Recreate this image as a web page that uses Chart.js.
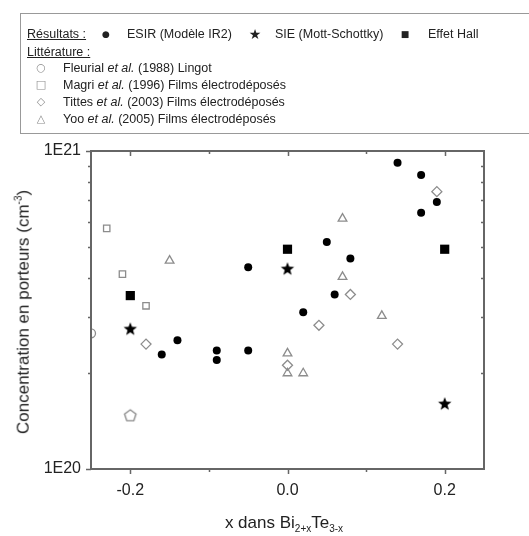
<!DOCTYPE html>
<html>
<head>
<meta charset="utf-8">
<script src="https://cdn.jsdelivr.net/npm/chart.js@4.4.1/dist/chart.umd.min.js"></script>
<style>
  html, body { margin: 0; padding: 0; background: #fff; }
  #wrap { position: relative; width: 529px; height: 536px; overflow: hidden; font-family: "Liberation Sans", Arial, sans-serif; color: #222; }
  #chart { position: absolute; left: 0; top: 0; }
  #legend { position: absolute; left: 20px; top: 13px; width: 530px; height: 121px; border: 1.5px solid #999; box-sizing: border-box; }
  .lg { position: absolute; font-size: 12.5px; line-height: 14px; white-space: nowrap; }
  .head { text-decoration: underline; }
  .sym { position: absolute; line-height: 14px; text-align: center; width: 16px; font-family: "DejaVu Sans", sans-serif; }
  #ytitle { position: absolute; left: 23px; top: 312px; font-size: 17px; white-space: nowrap; transform: translate(-50%, -50%) rotate(-90deg); }
  #xtitle { position: absolute; left: 284px; top: 513px; font-size: 17px; white-space: nowrap; transform: translateX(-50%); }
  sup, sub { font-size: 10px; }
</style>
</head>
<body>
<div id="wrap">
  <canvas id="chart" width="529" height="536"></canvas>
  <div id="legend"></div>
  <div id="ytitle">Concentration en porteurs (cm<sup>-3</sup>)</div>
  <div id="xtitle">x dans Bi<sub>2+x</sub>Te<sub>3-x</sub></div>
</div>
<script>
// valeurs
const xEsir = [-0.16, -0.14, -0.09, -0.09, -0.05, -0.05, 0.02, 0.05, 0.06, 0.08, 0.14, 0.17, 0.17, 0.19];
const yEsir = [2.29e20, 2.54e20, 2.36e20, 2.2e20, 2.36e20, 4.31e20, 3.11e20, 5.17e20, 3.54e20, 4.59e20, 9.19e20, 8.4e20, 6.4e20, 6.91e20];

const xSie = [-0.2, 0, 0.2];
const ySie = [2.75e20, 4.25e20, 1.6e20];

const xHall = [-0.2, 0, 0.2];
const yHall = [3.51e20, 4.91e20, 4.91e20];

const xFleurial = [-0.25, -0.2];
const yFleurial = [2.67e20, 1.47e20];

const xMagri = [-0.23, -0.21, -0.18];
const yMagri = [5.71e20, 4.1e20, 3.26e20];

const xTittes = [-0.18, 0, 0.04, 0.08, 0.14, 0.19];
const yTittes = [2.47e20, 2.12e20, 2.83e20, 3.54e20, 2.47e20, 7.45e20];

const xYoo = [-0.15, 0, 0, 0.02, 0.07, 0.07, 0.12];
const yYoo = [4.52e20, 2.31e20, 2.0e20, 2.0e20, 6.13e20, 4.02e20, 3.03e20];

const xTicks = [-0.2, -0.1, 0, 0.1, 0.2];
const xTickLabels = ['-0.2', '', '0.0', '', '0.2'];
const yTicks = [1e20, 1e21];
const yTickLabels = ['1E20', '1E21'];
const yMinorTicks = [2e20, 3e20, 4e20, 5e20, 6e20, 7e20, 8e20, 9e20];

const resultLabels = ['ESIR (Modèle IR2)', 'SIE (Mott-Schottky)', 'Effet Hall'];
const litAuthors = ['Fleurial', 'Magri', 'Tittes', 'Yoo'];
const litLabels = ['(1988) Lingot', '(1996) Films électrodéposés', '(2003) Films électrodéposés', '(2005) Films électrodéposés'];

const GRAY = '#8c8c8c';

const toPoints = (xs, ys) => xs.map((x, i) => ({ x: x, y: ys[i] }));

// marqueurs qui n'existent pas dans Chart.js
function makeStar (r) {
    const c = document.createElement('canvas');
    c.width = c.height = 2 * r + 2;
    const ctx = c.getContext('2d');
    ctx.fillStyle = '#000';
    ctx.beginPath();
    for (let i = 0; i < 10; i++) {
        const rad = i % 2 === 0 ? r : r * 0.42;
        const a = -Math.PI / 2 + i * Math.PI / 5;
        ctx.lineTo(c.width / 2 + rad * Math.cos(a), c.height / 2 + rad * Math.sin(a));
    }
    ctx.closePath();
    ctx.fill();
    return c;
}

function makePentagon (r) {
    const c = document.createElement('canvas');
    c.width = c.height = 2 * r + 4;
    const ctx = c.getContext('2d');
    ctx.strokeStyle = GRAY;
    ctx.lineWidth = 1.4;
    ctx.beginPath();
    for (let i = 0; i < 5; i++) {
        const a = -Math.PI / 2 + i * 2 * Math.PI / 5;
        ctx.lineTo(c.width / 2 + r * Math.cos(a), c.height / 2 + r * Math.sin(a));
    }
    ctx.closePath();
    ctx.stroke();
    return c;
}

const star = makeStar(7);
const pentagon = makePentagon(6);

const frame = {
    id: 'frame',
    afterDatasetsDraw (chart) {
        const { ctx, chartArea: a, scales } = chart;
        ctx.save();
        ctx.strokeStyle = '#666';
        ctx.lineWidth = 2;
        ctx.strokeRect(a.left, a.top, a.right - a.left, a.bottom - a.top);
        ctx.lineWidth = 1.5;
        ctx.beginPath();
        xTicks.forEach((v, i) => {
            const px = Math.round(scales.x.getPixelForValue(v)) + 0.5;
            const len = xTickLabels[i] ? 5 : 3;
            ctx.moveTo(px, a.bottom); ctx.lineTo(px, a.bottom + len);
            ctx.moveTo(px, a.top); ctx.lineTo(px, a.top + len);
        });
        yTicks.forEach(v => {
            const py = Math.round(scales.y.getPixelForValue(v)) + 0.5;
            ctx.moveTo(a.left - 5, py); ctx.lineTo(a.left, py);
        });
        yMinorTicks.forEach(v => {
            const py = Math.round(scales.y.getPixelForValue(v)) + 0.5;
            ctx.moveTo(a.left - 3, py); ctx.lineTo(a.left, py);
            ctx.moveTo(a.right, py); ctx.lineTo(a.right - 3, py);
        });
        ctx.stroke();
        ctx.restore();
    }
};

Chart.defaults.font.family = '"Liberation Sans", Arial, sans-serif';

const chart = new Chart(document.getElementById('chart').getContext('2d'), {
    type: 'scatter',
    data: {
        datasets: [{
            label: resultLabels[0],
            data: toPoints(xEsir, yEsir),
            pointStyle: 'circle', pointRadius: 4, backgroundColor: '#000', borderColor: '#000', borderWidth: 0
        }, {
            label: resultLabels[1],
            data: toPoints(xSie, ySie),
            pointStyle: star, pointRadius: 7
        }, {
            label: resultLabels[2],
            data: toPoints(xHall, yHall),
            pointStyle: 'rect', pointRadius: 6.5, backgroundColor: '#000', borderColor: '#000', borderWidth: 0
        }, {
            label: litAuthors[0],
            data: toPoints(xFleurial, yFleurial),
            pointStyle: ['circle', pentagon], pointRadius: 4.5,
            backgroundColor: 'rgba(0,0,0,0)', borderColor: GRAY, borderWidth: 1.3, clip: 0
        }, {
            label: litAuthors[1],
            data: toPoints(xMagri, yMagri),
            pointStyle: 'rect', pointRadius: 4.5,
            backgroundColor: 'rgba(0,0,0,0)', borderColor: GRAY, borderWidth: 1.3
        }, {
            label: litAuthors[2],
            data: toPoints(xTittes, yTittes),
            pointStyle: 'rectRot', pointRadius: 5,
            backgroundColor: 'rgba(0,0,0,0)', borderColor: GRAY, borderWidth: 1.3
        }, {
            label: litAuthors[3],
            data: toPoints(xYoo, yYoo),
            pointStyle: 'triangle', pointRadius: 5,
            backgroundColor: 'rgba(0,0,0,0)', borderColor: GRAY, borderWidth: 1.3
        }]
    },
    options: {
        responsive: false,
        animation: false,
        layout: { padding: { left: 30, right: 45, top: 151, bottom: 37 } },
        plugins: { legend: { display: false }, tooltip: { enabled: false } },
        scales: {
            x: {
                type: 'linear', min: -0.25, max: 0.25,
                afterBuildTicks: s => { s.ticks = xTicks.map(v => ({ value: v })); },
                afterFit: s => { s.height = 30; },
                grid: { display: false, drawTicks: false },
                border: { display: false },
                ticks: {
                    autoSkip: false, maxRotation: 0, padding: 12, color: '#222', font: { size: 16 },
                    callback: (v, i) => xTickLabels[i]
                }
            },
            y: {
                type: 'logarithmic', min: 1e20, max: 1e21,
                afterBuildTicks: s => { s.ticks = yTicks.map(v => ({ value: v })); },
                afterFit: s => { s.width = 61; },
                grid: { display: false, drawTicks: false },
                border: { display: false },
                ticks: {
                    autoSkip: false, padding: 10, color: '#222', font: { size: 16 },
                    callback: (v, i) => yTickLabels[i]
                }
            }
        }
    },
    plugins: [frame]
});

// légende en HTML (titres soulignés, "et al." en italique)
const legend = document.getElementById('legend');
function put (html, cls, x, y, extra) {
    const el = document.createElement('span');
    el.className = cls;
    el.innerHTML = html;
    el.style.left = (x - 20) + 'px';
    el.style.top = (y - 13 - 7) + 'px';
    if (extra) Object.assign(el.style, extra);
    legend.appendChild(el);
}

put('Résultats :', 'lg head', 26, 33);
put('●', 'sym', 97, 33, { fontSize: '9px' });
put(resultLabels[0], 'lg', 126, 33);
put('★', 'sym', 246, 33, { fontSize: '14px' });
put(resultLabels[1], 'lg', 274, 33);
put('■', 'sym', 396, 33, { fontSize: '9px' });
put(resultLabels[2], 'lg', 427, 33);
put('Littérature :', 'lg head', 26, 51);

const litSymbols = ['○', '□', '◇', '△'];
litAuthors.forEach((name, i) => {
    const y = 67 + i * 17;
    put(litSymbols[i], 'sym', 32, y, { fontSize: '11px', color: GRAY });
    put(name + ' <i>et al.</i> ' + litLabels[i], 'lg', 62, y);
});
</script>
</body>
</html>
